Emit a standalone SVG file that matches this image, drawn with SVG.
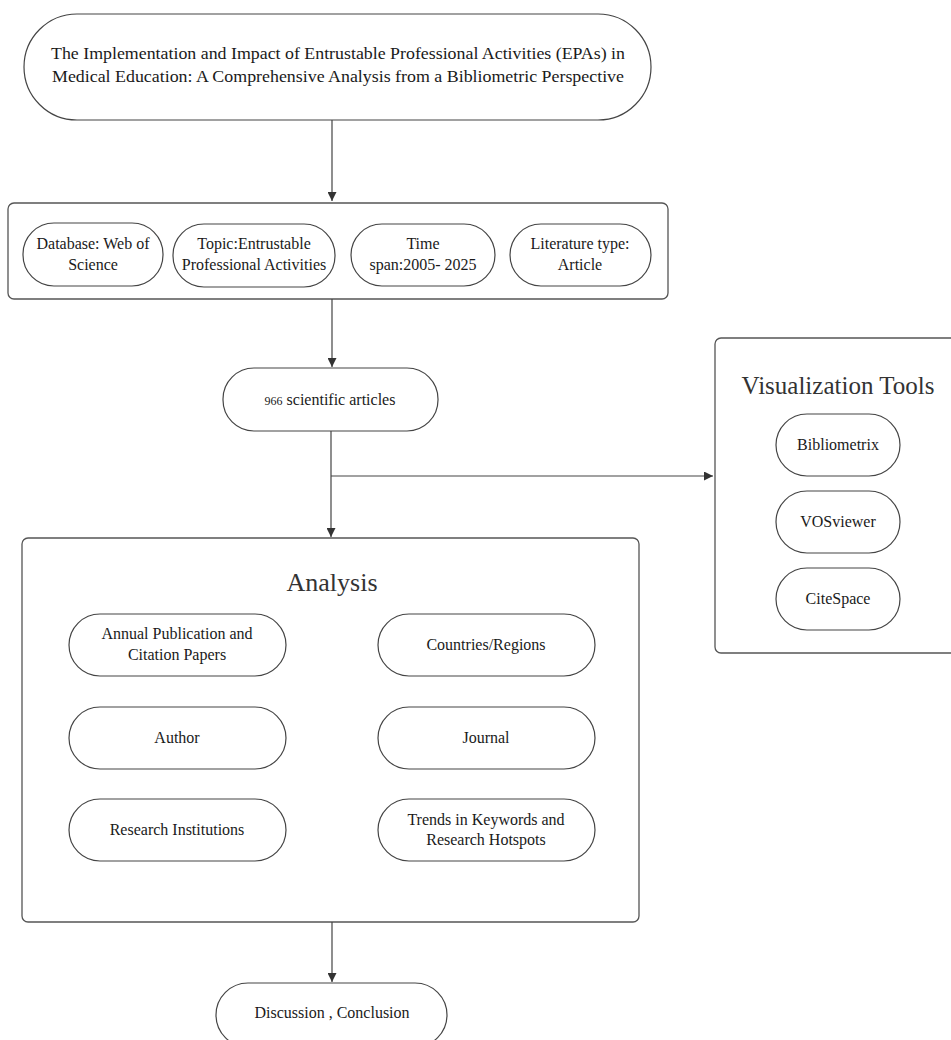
<svg xmlns="http://www.w3.org/2000/svg" width="951" height="1040" viewBox="0 0 951 1040">
<style>
.box{fill:#fff;stroke:#555;stroke-width:1.3}
.pill{fill:#fff;stroke:#444;stroke-width:1.2}
.t{font-family:"Liberation Serif","Times New Roman",serif;fill:#1a1a1a;text-anchor:middle;font-size:16px}
.big{font-size:25px;fill:#333}
.head{font-size:26px;fill:#333}
.ttl{font-size:17px}
.sm{font-size:12px}
.edge{stroke:#444;stroke-width:1.2;fill:none}
</style>
<defs>
<marker id="arr" viewBox="0 0 10 10" refX="10" refY="5" markerWidth="9" markerHeight="9" markerUnits="userSpaceOnUse" orient="auto">
<path d="M0,0 L10,5 L0,10 z" fill="#333"/>
</marker>
</defs>
<rect width="951" height="1040" fill="#fff"/>

<g id="title">
<rect class="pill" x="24" y="14" width="627" height="106" rx="53"/>
<text class="t ttl" x="338" y="59" textLength="574" lengthAdjust="spacingAndGlyphs">The Implementation and Impact of Entrustable Professional Activities (EPAs) in</text>
<text class="t ttl" x="338" y="82" textLength="572" lengthAdjust="spacingAndGlyphs">Medical Education: A Comprehensive Analysis from a Bibliometric Perspective</text>
</g>

<g id="criteria">
<rect class="box" x="8" y="203" width="660" height="96" rx="6"/>
<g id="database">
<rect class="pill" x="23" y="223" width="140" height="63" rx="31"/>
<text class="t" x="93" y="249">Database: Web of</text>
<text class="t" x="93" y="270">Science</text>
</g>
<g id="topic">
<rect class="pill" x="173" y="224" width="162" height="63" rx="31"/>
<text class="t" x="254" y="249">Topic:Entrustable</text>
<text class="t" x="254" y="270">Professional Activities</text>
</g>
<g id="timespan">
<rect class="pill" x="351" y="224" width="144" height="62" rx="31"/>
<text class="t" x="423" y="249">Time</text>
<text class="t" x="423" y="270">span:2005- 2025</text>
</g>
<g id="littype">
<rect class="pill" x="510" y="224" width="141" height="62" rx="31"/>
<text class="t" x="580" y="249">Literature type:</text>
<text class="t" x="580" y="270">Article</text>
</g>
</g>

<g id="articles">
<rect class="pill" x="223" y="368" width="215" height="63" rx="31"/>
<text class="t" x="330" y="405"><tspan class="sm">966</tspan> scientific articles</text>
</g>

<g id="vistools">
<rect class="box" x="715" y="338" width="260" height="315" rx="6"/>
<text class="t big" x="838" y="394">Visualization Tools</text>
<g id="bibliometrix">
<rect class="pill" x="776" y="414" width="124" height="62" rx="31"/>
<text class="t" x="838" y="450">Bibliometrix</text>
</g>
<g id="vosviewer">
<rect class="pill" x="776" y="491" width="124" height="62" rx="31"/>
<text class="t" x="838" y="527">VOSviewer</text>
</g>
<g id="citespace">
<rect class="pill" x="776" y="568" width="124" height="62" rx="31"/>
<text class="t" x="838" y="604">CiteSpace</text>
</g>
</g>

<g id="analysis">
<rect class="box" x="22" y="538" width="617" height="384" rx="6"/>
<text class="t head" x="332" y="591">Analysis</text>
<g id="annual">
<rect class="pill" x="69" y="614" width="217" height="62" rx="31"/>
<text class="t" x="177" y="639">Annual Publication and</text>
<text class="t" x="177" y="660">Citation Papers</text>
</g>
<g id="countries">
<rect class="pill" x="378" y="614" width="217" height="62" rx="31"/>
<text class="t" x="486" y="650">Countries/Regions</text>
</g>
<g id="author">
<rect class="pill" x="69" y="707" width="217" height="62" rx="31"/>
<text class="t" x="177" y="743">Author</text>
</g>
<g id="journal">
<rect class="pill" x="378" y="707" width="217" height="62" rx="31"/>
<text class="t" x="486" y="743">Journal</text>
</g>
<g id="institutions">
<rect class="pill" x="69" y="799" width="217" height="62" rx="31"/>
<text class="t" x="177" y="835">Research Institutions</text>
</g>
<g id="keywords">
<rect class="pill" x="378" y="799" width="217" height="62" rx="31"/>
<text class="t" x="486" y="825">Trends in Keywords and</text>
<text class="t" x="486" y="845">Research Hotspots</text>
</g>
</g>

<g id="discussion">
<rect class="pill" x="216" y="983" width="231" height="64" rx="32"/>
<text class="t" x="332" y="1018">Discussion , Conclusion</text>
</g>

<g id="connectors">
<line class="edge" x1="332" y1="120" x2="332" y2="201" marker-end="url(#arr)"/>
<line class="edge" x1="332" y1="299" x2="332" y2="367" marker-end="url(#arr)"/>
<line class="edge" x1="331" y1="431" x2="331" y2="537" marker-end="url(#arr)"/>
<line class="edge" x1="331" y1="476" x2="713" y2="476" marker-end="url(#arr)"/>
<line class="edge" x1="332" y1="922" x2="332" y2="982" marker-end="url(#arr)"/>
</g>
</svg>
